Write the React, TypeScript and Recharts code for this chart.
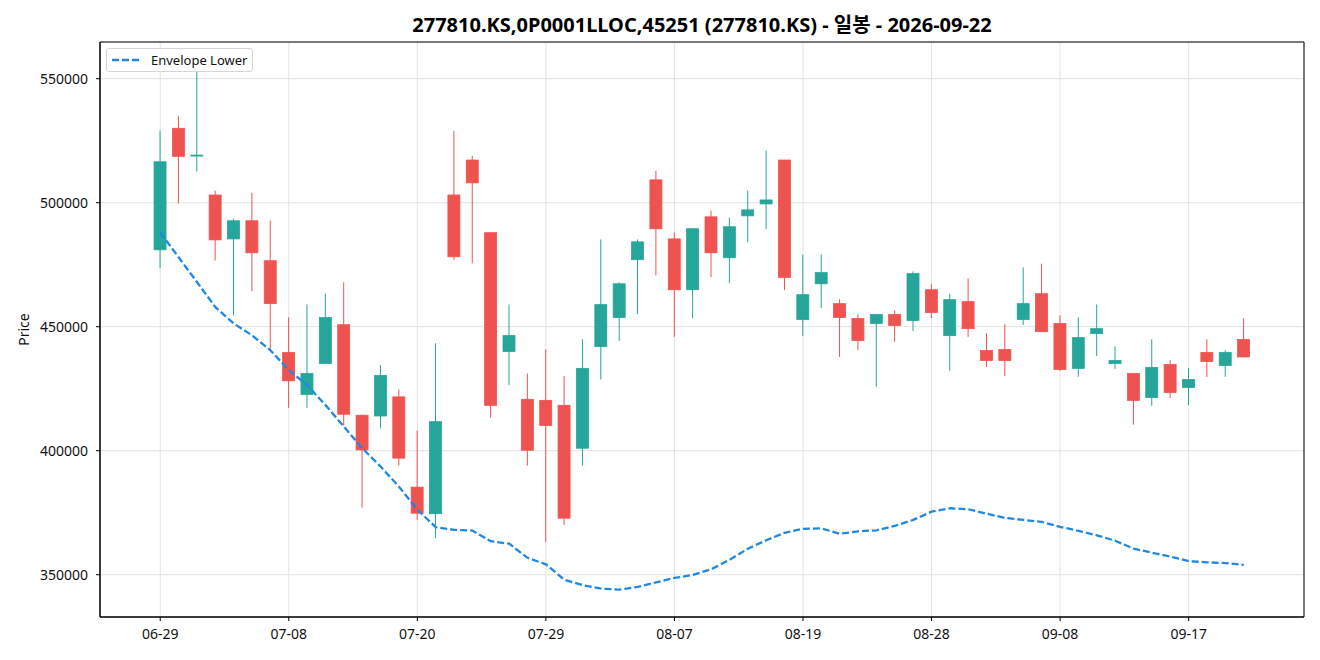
import { ComposedChart, Bar, Line, XAxis, YAxis, CartesianGrid, ReferenceArea } from 'recharts';

document.body.style.margin = '0';

const DATES = [
  '06-29', '06-30', '07-01', '07-02', '07-03', '07-06', '07-07', '07-08', '07-09', '07-10',
  '07-13', '07-14', '07-15', '07-16', '07-20', '07-21', '07-22', '07-23', '07-24', '07-27',
  '07-28', '07-29', '07-30', '07-31', '08-03', '08-04', '08-05', '08-06', '08-07', '08-10',
  '08-11', '08-12', '08-13', '08-14', '08-18', '08-19', '08-20', '08-21', '08-24', '08-25',
  '08-26', '08-27', '08-28', '08-31', '09-01', '09-02', '09-03', '09-04', '09-07', '09-08',
  '09-09', '09-10', '09-11', '09-14', '09-15', '09-16', '09-17', '09-18', '09-21', '09-22',
];

const OPEN = [
  481000, 530000, 518800, 503100, 485400, 492700, 476600, 439600, 422700, 435200,
  450800, 414300, 414000, 421700, 385300, 374600, 503100, 517200, 487900, 440000,
  420700, 420300, 418300, 401000, 442000, 453700, 477000, 509200, 485400, 464900,
  494300, 477800, 494700, 499500, 517200, 452900, 467300, 459300, 453300, 451300,
  454900, 452500, 464900, 446400, 460100, 440400, 440800, 452900, 463300, 451300,
  433200, 447200, 435200, 431100, 421500, 434800, 425500, 439600, 434400, 444800,
];
const HIGH = [
  529000, 535000, 553000, 504900, 493600, 504000, 492800, 453800, 459000, 463400,
  467900, 414500, 434500, 424700, 408100, 443300, 529000, 518900, 487900, 459000,
  431100, 440900, 430100, 444900, 485200, 467900, 485200, 512900, 488000, 489600,
  496800, 494000, 504900, 521000, 517200, 479100, 479100, 461000, 455000, 455000,
  456600, 472300, 467300, 463300, 469500, 447400, 451000, 473900, 475400, 454600,
  453800, 459000, 442100, 431100, 444900, 436500, 433300, 444900, 440500, 453400,
];
const LOW = [
  473600, 499700, 512600, 476700, 454600, 464400, 440100, 417300, 417300, 435000,
  410100, 377000, 409000, 394000, 372100, 364800, 477000, 475600, 413300, 426400,
  394000, 363000, 370100, 394000, 428700, 444300, 455100, 470700, 445900, 453500,
  470000, 467600, 484100, 489300, 464800, 446300, 457500, 437800, 440600, 425800,
  443900, 448300, 453500, 432200, 445900, 433800, 430200, 450700, 447900, 432200,
  429800, 438200, 433000, 410500, 418100, 421300, 418400, 429700, 429800, 437800,
];
const CLOSE = [
  516500, 518700, 519200, 485000, 492700, 479800, 459300, 428200, 431100, 453700,
  414700, 400300, 430300, 397000, 374800, 411700, 478200, 508000, 418300, 446400,
  400200, 410200, 372800, 433200, 458900, 467300, 484200, 489500, 464900, 489500,
  479800, 490300, 497100, 501100, 469900, 462900, 471800, 453700, 444400, 454900,
  450500, 471400, 455700, 460900, 449200, 436400, 436400, 459300, 448000, 432800,
  445600, 449200, 436400, 420300, 433600, 423500, 428700, 436000, 439600, 437800,
];
const ENVELOPE_LOWER = [
  488000, 478000, 468000, 457900, 451300, 446500, 440500, 432500, 426400, 418400,
  409700, 401000, 393600, 385500, 376200, 369200, 368100, 367800, 363500, 362500,
  356800, 354200, 348000, 345800, 344400, 344000, 345100, 346900, 348700, 349900,
  352200, 356000, 360500, 363900, 366900, 368500, 368700, 366500, 367500, 367900,
  369700, 372100, 375400, 376800, 376400, 374600, 372900, 372100, 371300, 369300,
  367700, 365900, 363700, 360500, 358900, 357300, 355500, 355000, 354700, 354000,
];

const X_TICKS = [0, 7, 14, 21, 28, 35, 42, 49, 56];
const Y_TICKS = [350000, 400000, 450000, 500000, 550000];
const X_DOMAIN: [number, number] = [-3.28, 62.28];
const Y_DOMAIN: [number, number] = [332950, 564790];

const UP = '#26a69a';
const DOWN = '#ef5350';
const FONT = "'Noto Sans', 'Noto Sans CJK KR', sans-serif";

interface Row { i: number; open: number; high: number; low: number; close: number; env: number }

const rows: Row[] = DATES.map((_, i) => ({
  i, open: OPEN[i], high: HIGH[i], low: LOW[i], close: CLOSE[i], env: ENVELOPE_LOWER[i],
}));

// body + wick, positioned inside the [low, high] bar that recharts hands us
function Candle(props: any) {
  const { x, y, width, height, payload } = props;
  if (x == null || y == null) return null;
  const { open, close, high, low } = payload as Row;
  const color = close >= open ? UP : DOWN;
  const span = high - low || 1;
  const py = (v: number) => y + ((high - v) / span) * height;
  const cx = x + width / 2;
  const top = py(Math.max(open, close));
  const bot = py(Math.min(open, close));
  return (
    <g>
      <line x1={cx} x2={cx} y1={y} y2={y + height} stroke={color} strokeWidth={1} />
      <rect x={x} y={top} width={width} height={Math.max(bot - top, 1)} fill={color} stroke={color} strokeWidth={0.8} />
    </g>
  );
}

export default function App() {
  return (
    <div style={{ position: 'relative', width: 1320, height: 660, background: '#fff', fontFamily: FONT }}>
      <div style={{ position: 'absolute', top: 11, left: 100, width: 1204, textAlign: 'center', fontSize: 20, fontWeight: 700, lineHeight: '28px', color: '#000' }}>
        277810.KS,0P0001LLOC,45251 (277810.KS) - 일봉 - 2026-09-22
      </div>
      <ComposedChart width={1320} height={660} data={rows} margin={{ top: 42, right: 16, bottom: 13, left: 0 }}>
        <CartesianGrid stroke="#e3e3e3" />
        <XAxis dataKey="i" type="number" domain={X_DOMAIN} ticks={X_TICKS} interval={0} allowDataOverflow
          tickFormatter={v => DATES[v] ?? ''} height={30} tickSize={4} tickMargin={8}
          stroke="#000" tick={{ fill: '#111', fontSize: 14, fontFamily: FONT }} />
        <YAxis type="number" domain={Y_DOMAIN} ticks={Y_TICKS} interval={0} allowDataOverflow width={100}
          tickSize={4} tickMargin={8} stroke="#000" tick={{ fill: '#111', fontSize: 14, fontFamily: FONT }}
          label={{
            content: ({ viewBox }: any) => (
              <text x={viewBox.x + 29} y={viewBox.y + viewBox.height / 2} transform={`rotate(-90 ${viewBox.x + 29} ${viewBox.y + viewBox.height / 2})`}
                textAnchor="middle" fontSize={14} fontFamily={FONT} fill="#111">Price</text>
            ),
          }} />
        <Bar dataKey={(d: Row) => [d.low, d.high]} barSize={12} shape={Candle} isAnimationActive={false} />
        <Line dataKey="env" type="linear" stroke="#1e88e5" strokeWidth={2.3} strokeDasharray="7 3" dot={false} activeDot={false} isAnimationActive={false} />
        <ReferenceArea x1={X_DOMAIN[0]} x2={X_DOMAIN[1]} y1={Y_DOMAIN[0]} y2={Y_DOMAIN[1]} fill="none" stroke="#000" strokeWidth={1} ifOverflow="visible" />
      </ComposedChart>
      <div style={{ position: 'absolute', left: 106, top: 48, width: 147, height: 24, boxSizing: 'border-box', border: '1px solid #d6d6d6', borderRadius: 3, background: 'rgba(255,255,255,0.8)', display: 'flex', alignItems: 'center', fontSize: 13, color: '#111' }}>
        <svg width={44} height={10} style={{ flex: 'none' }}>
          <line x1={5} x2={32} y1={5} y2={5} stroke="#1e88e5" strokeWidth={2.3} strokeDasharray="7 3" />
        </svg>
        <span>Envelope Lower</span>
      </div>
    </div>
  );
}
